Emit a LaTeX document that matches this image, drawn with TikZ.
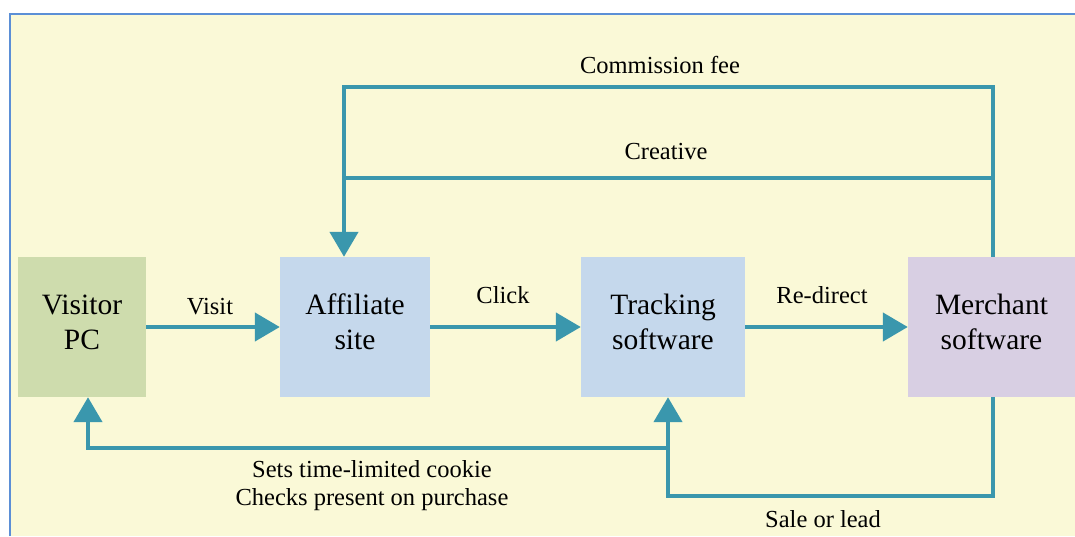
\documentclass[tikz,border=0pt]{standalone}
\usepackage{fontspec}
\setmainfont{Liberation Serif}
\usepackage{tikz}
\usetikzlibrary{arrows.meta,positioning}
\definecolor{paper}{HTML}{FAF9D7}
\definecolor{frame}{HTML}{5B8FD6}
\definecolor{teal}{HTML}{3A97AD}
\definecolor{pcgreen}{HTML}{CEDCAD}
\definecolor{swblue}{HTML}{C5D8EC}
\definecolor{mcpurple}{HTML}{D8CFE3}
\tikzset{box/.style={minimum height=140pt,align=center,inner sep=0pt,
        text depth=10pt,font=\fontsize{29.5}{35}\selectfont,text=black},
    flow/.style={draw=teal,line width=4.5pt,
        -{Triangle[length=25pt,width=28pt]}},
    link/.style={draw=teal,line width=4.5pt},
    tag/.style={font=\fontsize{24.5}{28}\selectfont,text=black,align=center}}

\begin{document}
\begin{tikzpicture}[x=1pt,y=-1pt]
    \useasboundingbox (0,0) rectangle (1075,536);
    \fill[paper] (10,14) rectangle (1075,536);
    \draw[frame,line width=1.5pt] (10,536) -- (10,14) -- (1075,14);
    % boxes
    \node[box,fill=pcgreen,minimum width=128pt] (visitor) at (82,327) {Visitor\\PC};
    \node[box,fill=swblue,minimum width=150pt] (affiliate) at (355,327) {Affiliate\\site};
    \node[box,fill=swblue,minimum width=164pt] (tracking) at (663,327) {Tracking\\software};
    \node[box,fill=mcpurple,minimum width=167pt] (merchant) at (991.5,327) {Merchant\\software};
    % corner points
    \coordinate (fee-l) at (344,87);
    \coordinate (fee-r) at (993,87);
    \coordinate (cre-l) at (344,178);
    \coordinate (cre-r) at (993,178);
    \coordinate (sale-l) at (668,496);
    \coordinate (sale-r) at (993,496);
    \coordinate (cookie-r) at (668,448);
    \coordinate (cookie-l) at (88,448);
    % connectors
    \draw[flow] (visitor.east) -- (affiliate.west);
    \draw[flow] (affiliate.east) -- (tracking.west);
    \draw[flow] (tracking.east) -- (merchant.west);
    \draw[flow] (merchant.north -| fee-r) -- (fee-r) -- (fee-l)
        -- (affiliate.north -| fee-l);
    \draw[link] (cre-r) -- (cre-l);
    \draw[flow] (merchant.south -| sale-r) -- (sale-r) -- (sale-l)
        -- (tracking.south -| sale-l);
    \draw[flow] (cookie-r) -- (cookie-l) -- (visitor.south -| cookie-l);
    % labels
    \node[tag] (visit) at (210,307) {Visit};
    \node[tag] (click) at (503,295) {Click};
    \node[tag] (redirect) at (822,295) {Re-direct};
    \node[tag] (fee) at (660,65) {Commission fee};
    \node[tag] (creative) at (666,152) {Creative};
    \node[tag] (cookie) at (372,486) {Sets time-limited cookie\\Checks present on purchase};
    \node[tag] (sale) at (823,519) {Sale or lead};
\end{tikzpicture}
\end{document}
